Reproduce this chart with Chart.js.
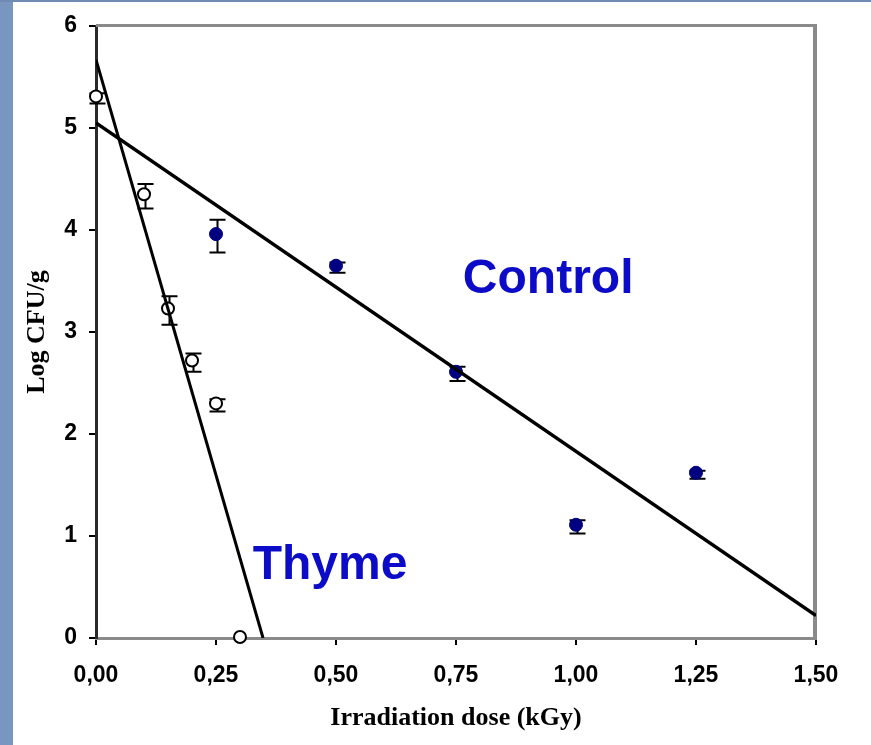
<!DOCTYPE html>
<html>
<head>
<meta charset="utf-8">
<script src="https://cdn.jsdelivr.net/npm/chart.js@4.4.1/dist/chart.umd.min.js"></script>
<style>
  body { margin: 0; background: #fff; }
  canvas { display: block; }
</style>
</head>
<body>
<canvas id="doseChart" width="871" height="745"></canvas>
<script>
// survival counts after irradiation (Log CFU/g), mean and error
const thymeDose = [0, 0.1, 0.15, 0.2, 0.25, 0.3];
const thymeLog = [5.31, 4.35, 3.23, 2.72, 2.30, 0.01];
const thymeErr = [0.05, 0.12, 0.14, 0.09, 0.06, 0];

const controlDose = [0.25, 0.5, 0.75, 1.0, 1.25];
const controlLog = [3.96, 3.65, 2.61, 1.11, 1.62];
const controlErr = [0.16, 0.05, 0.07, 0.065, 0.04];

// linear fits, end points
const thymeFitDose = [0, 0.348];
const thymeFitLog = [5.67, 0];
const controlFitDose = [0, 1.5];
const controlFitLog = [5.05, 0.22];

const xTicks = [0, 0.25, 0.5, 0.75, 1.0, 1.25, 1.5];
const yTicks = [0, 1, 2, 3, 4, 5, 6];

const seriesNames = ['Control', 'Thyme'];

function toPoints(xs, ys) {
  return xs.map((x, i) => ({x: x, y: ys[i]}));
}

const ctx = document.getElementById('doseChart');

// page background, side strip, plot frame and error bars
const backdrop = {
  id: 'backdrop',
  beforeDraw(chart) {
    const c = chart.ctx;
    c.save();
    c.fillStyle = '#ffffff';
    c.fillRect(0, 0, chart.width, chart.height);
    c.fillStyle = '#7896bf';
    c.fillRect(0, 0, 13, chart.height);
    c.fillStyle = '#6f8bb3';
    c.fillRect(0, 0, chart.width, 2);
    c.restore();
  },
  beforeDatasetsDraw(chart) {
    const c = chart.ctx;
    const a = chart.chartArea;
    c.save();
    c.strokeStyle = '#8a8a8a';
    c.lineWidth = 3;
    c.beginPath();
    c.moveTo(a.left, a.top - 0.5);
    c.lineTo(a.right + 1, a.top - 0.5);
    c.stroke();
    c.lineWidth = 4;
    c.beginPath();
    c.moveTo(a.right - 1, a.top - 2);
    c.lineTo(a.right - 1, a.bottom);
    c.stroke();

    // error bars sit under the markers
    const ys = chart.scales.y;
    c.strokeStyle = '#000';
    c.lineWidth = 2;
    chart.data.datasets.forEach((ds, di) => {
      if (!ds.errors) return;
      const meta = chart.getDatasetMeta(di);
      meta.data.forEach((pt, i) => {
        const e = ds.errors[i];
        if (!e) return;
        const v = ds.data[i].y;
        const x = pt.x + 1.5;
        const y1 = ys.getPixelForValue(v + e) + 2;
        const y2 = ys.getPixelForValue(v - e) + 2;
        c.beginPath();
        c.moveTo(x, y1); c.lineTo(x, y2);
        c.moveTo(x - 8, y1); c.lineTo(x + 8, y1);
        c.moveTo(x - 8, y2); c.lineTo(x + 8, y2);
        c.stroke();
      });
    });
    c.restore();
  }
};

// series names written inside the plot
const seriesLabels = {
  id: 'seriesLabels',
  afterDatasetsDraw(chart) {
    const c = chart.ctx;
    const xs = chart.scales.x, ys = chart.scales.y;
    const spots = [[0.942, 3.38], [0.4875, 0.58]];
    c.save();
    c.fillStyle = '#0b0bc8';
    c.font = 'bold 48px "Liberation Sans", Arial, sans-serif';
    c.textAlign = 'center';
    c.textBaseline = 'alphabetic';
    seriesNames.forEach((name, i) => {
      c.fillText(name, xs.getPixelForValue(spots[i][0]), ys.getPixelForValue(spots[i][1]));
    });
    c.restore();
  }
};

const myChart = new Chart(ctx, {
  type: 'scatter',
  data: {
    datasets: [
      {
        label: 'Control fit',
        data: toPoints(controlFitDose, controlFitLog),
        showLine: true,
        borderColor: '#000',
        borderWidth: 3.5,
        pointRadius: 0,
        order: 0
      },
      {
        label: 'Thyme fit',
        data: toPoints(thymeFitDose, thymeFitLog),
        showLine: true,
        borderColor: '#000',
        borderWidth: 3,
        pointRadius: 0,
        order: 0
      },
      {
        label: 'Control',
        data: toPoints(controlDose, controlLog),
        errors: controlErr,
        pointRadius: 6.5,
        pointBackgroundColor: '#000080',
        pointBorderColor: '#000080',
        pointBorderWidth: 1,
        clip: false,
        order: 1
      },
      {
        label: 'Thyme',
        data: toPoints(thymeDose, thymeLog),
        errors: thymeErr,
        pointRadius: 6,
        pointBackgroundColor: '#ffffff',
        pointBorderColor: '#000',
        pointBorderWidth: 2,
        clip: false,
        order: 1
      }
    ]
  },
  options: {
    responsive: false,
    animation: false,
    devicePixelRatio: 1,
    layout: {
      padding: {left: 16, right: 55, top: 26, bottom: 7}
    },
    plugins: {
      legend: {display: false},
      tooltip: {enabled: false}
    },
    scales: {
      x: {
        type: 'linear',
        min: 0,
        max: 1.5,
        afterBuildTicks: s => { s.ticks = xTicks.map(v => ({value: v})); },
        afterFit: s => { s.height = 100; },
        border: {color: '#8a8a8a', width: 3},
        grid: {drawOnChartArea: false, tickLength: 7, color: '#000', lineWidth: 2},
        ticks: {
          color: '#000',
          padding: 17,
          font: {family: '"Liberation Sans", Arial, sans-serif', size: 23, weight: 'bold'},
          callback: v => v.toFixed(2).replace('.', ',')
        },
        title: {
          display: true,
          text: 'Irradiation dose (kGy)',
          color: '#000',
          padding: {top: 0, bottom: 4.4},
          font: {family: '"Liberation Serif", "Times New Roman", serif', size: 26, weight: 'bold'}
        }
      },
      y: {
        type: 'linear',
        min: 0,
        max: 6,
        afterBuildTicks: s => { s.ticks = yTicks.map(v => ({value: v})); },
        afterFit: s => { s.width = 80; },
        border: {color: '#2a2a2a', width: 3},
        grid: {drawOnChartArea: false, tickLength: 7, color: '#000', lineWidth: 2},
        ticks: {
          color: '#000',
          padding: 12,
          font: {family: '"Liberation Sans", Arial, sans-serif', size: 23, weight: 'bold'}
        },
        title: {
          display: true,
          text: 'Log CFU/g',
          color: '#000',
          padding: {top: 5.4, bottom: 0},
          font: {family: '"Liberation Serif", "Times New Roman", serif', size: 26, weight: 'bold'}
        }
      }
    }
  },
  plugins: [backdrop, seriesLabels]
});
</script>
</body>
</html>
